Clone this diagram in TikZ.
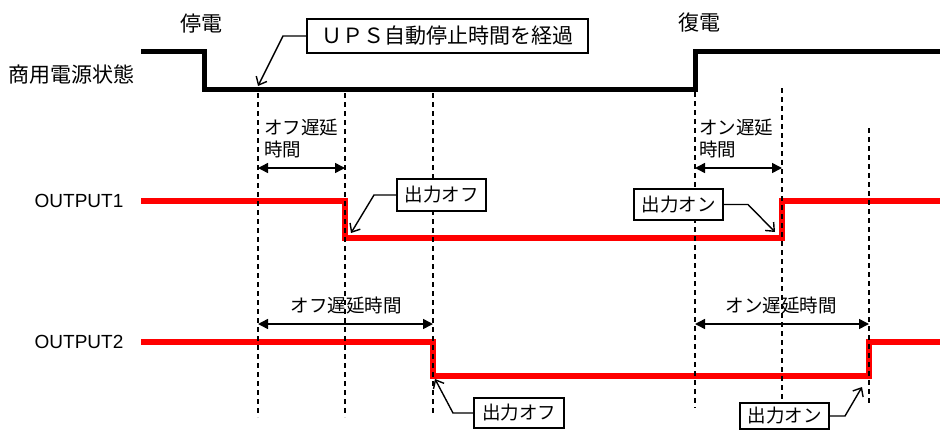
\documentclass[tikz,border=0pt]{standalone}
\usepackage{fontspec}
\setmainfont{Liberation Sans}
\newfontfamily\jp{Noto Sans CJK JP}
\usetikzlibrary{arrows.meta}
\definecolor{sigred}{RGB}{255,0,0}
\begin{document}
\begin{tikzpicture}[x=1pt,y=-1pt,
  pwr/.style={line width=5pt, line join=miter},
  sig/.style={line width=5.5pt, sigred, line join=miter},
  guide/.style={line width=1.1pt, dash pattern=on 5pt off 4pt},
  span/.style={line width=1.5pt, {Triangle[length=10pt,width=10pt]}-{Triangle[length=10pt,width=10pt]}},
  callout/.style={line width=1.4pt, -{Straight Barb[length=7pt,width=12pt]}},
  tagbox/.style={draw, line width=1.2pt, fill=white, inner sep=0pt, font=\jp\fontsize{18.5}{20}\selectfont},
  biglbl/.style={inner sep=0pt, font=\jp\fontsize{21}{24}\selectfont},
  lbl/.style={inner sep=0pt, font=\jp\fontsize{18.5}{22}\selectfont},
  signame/.style={inner sep=0pt, font=\fontsize{19}{22}\selectfont}
]
\useasboundingbox (0,0) rectangle (940,429);

% labels
\node[biglbl] (mains) at (72,75) {商用電源状態};
\node[biglbl] (outage) at (201,24) {停電};
\node[biglbl] (restore) at (699,23) {復電};
\node[signame] (o1) at (79,201) {OUTPUT1};
\node[signame] (o2) at (79,342) {OUTPUT2};

% mains waveform
\coordinate (m0) at (141,51);
\coordinate (m1) at (204,51);
\coordinate (m2) at (204,89);
\coordinate (m3) at (695,89);
\coordinate (m4) at (695,51);
\coordinate (m5) at (940,51);
\draw[pwr] (m0) -- (m1) -- (m2) -- (m3) -- (m4) -- (m5);

% OUTPUT1 waveform
\coordinate (a0) at (141,201);
\coordinate (a1) at (345,201);
\coordinate (a2) at (345,238);
\coordinate (a3) at (782,238);
\coordinate (a4) at (782,201);
\coordinate (a5) at (940,201);
\draw[sig] (a0) -- (a1) -- (a2) -- (a3) -- (a4) -- (a5);

% OUTPUT2 waveform
\coordinate (b0) at (141,342);
\coordinate (b1) at (433,342);
\coordinate (b2) at (433,376);
\coordinate (b3) at (869,376);
\coordinate (b4) at (869,342);
\coordinate (b5) at (940,342);
\draw[sig] (b0) -- (b1) -- (b2) -- (b3) -- (b4) -- (b5);

% guide lines
\coordinate (g1t) at (258,93);  \coordinate (g1b) at (258,417);
\coordinate (g2t) at (345,93);  \coordinate (g2b) at (345,417);
\coordinate (g3t) at (433,93);  \coordinate (g3b) at (433,413);
\coordinate (g4t) at (695,92);  \coordinate (g4b) at (695,408);
\coordinate (g5t) at (782,88);  \coordinate (g5b) at (782,402);
\coordinate (g6t) at (869,128); \coordinate (g6b) at (869,403);
\draw[guide] (g1t) -- (g1b);
\draw[guide] (g2t) -- (g2b);
\draw[guide] (g3t) -- (g3b);
\draw[guide] (g4t) -- (g4b);
\draw[guide] (g5t) -- (g5b);
\draw[guide] (g6t) -- (g6b);

% delay spans
\node[lbl, anchor=west, align=left] (offd1) at (264,139) {オフ遅延\\時間};
\node[lbl, anchor=west, align=left] (ond1) at (699,139) {オン遅延\\時間};
\coordinate (s1l) at (258,168); \coordinate (s1r) at (345,168);
\coordinate (s2l) at (695,168); \coordinate (s2r) at (782,168);
\draw[span] (s1l) -- (s1r);
\draw[span] (s2l) -- (s2r);

\node[lbl] (offd2) at (346,306) {オフ遅延時間};
\node[lbl] (ond2) at (781,306) {オン遅延時間};
\coordinate (s3l) at (258,324); \coordinate (s3r) at (433,324);
\coordinate (s4l) at (695,324); \coordinate (s4r) at (869,324);
\draw[span] (s3l) -- (s3r);
\draw[span] (s4l) -- (s4r);

% callouts
\node[tagbox, font=\jp\fontsize{21}{24}\selectfont, minimum width=281pt, minimum height=34pt] (ups) at (447.5,36) {ＵＰＳ自動停止時間を経過};
\coordinate (upsk) at (283,36);
\coordinate (upst) at (258,86);
\draw[callout] (ups.west) -- (upsk) -- (upst);

\node[tagbox, minimum width=89pt, minimum height=32pt] (off1) at (441.5,195) {出力オフ};
\coordinate (off1k) at (374,195);
\coordinate (off1t) at (351,233);
\draw[callout] (off1.west) -- (off1k) -- (off1t);

\node[tagbox, minimum width=89pt, minimum height=31pt] (on1) at (678.5,204.5) {出力オン};
\coordinate (on1k) at (748,204.5);
\coordinate (on1t) at (775,232);
\draw[callout] (on1.east) -- (on1k) -- (on1t);

\node[tagbox, minimum width=90pt, minimum height=30pt] (off2) at (519,413) {出力オフ};
\coordinate (off2k) at (453,413);
\coordinate (off2t) at (435,379);
\draw[callout] (off2.west) -- (off2k) -- (off2t);

\node[tagbox, minimum width=89pt, minimum height=26pt] (on2) at (784.5,416) {出力オン};
\coordinate (on2k) at (845,416);
\coordinate (on2t) at (862,387);
\draw[callout] (on2.east) -- (on2k) -- (on2t);
\end{tikzpicture}
\end{document}
